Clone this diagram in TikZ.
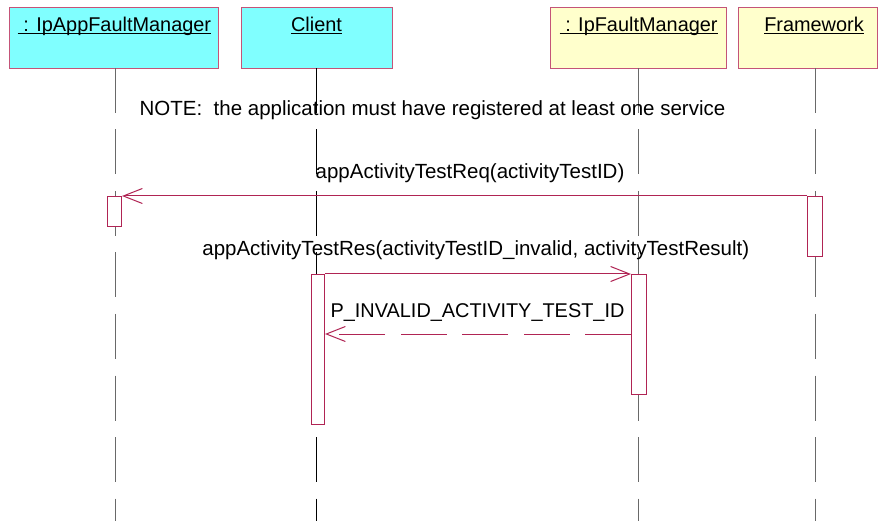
\documentclass[tikz,border=0pt]{standalone}
\usepackage{fontspec}
\setmainfont{Liberation Sans}
\usetikzlibrary{arrows.meta,calc}
\definecolor{msg}{RGB}{176,36,84}
\definecolor{hdrb}{RGB}{196,84,120}
\definecolor{hdrc}{RGB}{128,255,255}
\definecolor{hdry}{RGB}{255,255,204}
\definecolor{lifeg}{RGB}{105,105,105}
\begin{document}
\begin{tikzpicture}[x=1pt,y=-1pt,
  hdr/.style={draw=hdrb, line width=1pt, inner sep=0pt, anchor=north west, minimum height=61pt},
  lbl/.style={inner sep=0pt, anchor=base, font=\fontsize{20.5}{24}\selectfont},
  lbls/.style={lbl, font=\fontsize{19.9}{24}\selectfont},
  life/.style={line width=1pt, dash pattern=on 45pt off 16.5pt},
  act/.style={draw=msg, fill=white, line width=1pt, inner sep=0pt, anchor=north west},
  tip/.style={-{Straight Barb[length=19pt,width=15pt,line width=1pt]}},
  msgline/.style={msg, line width=1pt},
  uline/.style={line width=1.3pt}]
\useasboundingbox (0,0) rectangle (878,521);
\fill[white] (0,0) rectangle (878,521);
% headers
\node[hdr, fill=hdrc, minimum width=209pt] (b1) at (9,7) {};
\node[hdr, fill=hdrc, minimum width=151pt] (b2) at (241,7) {};
\node[hdr, fill=hdry, minimum width=176pt] (b3) at (550,7) {};
\node[hdr, fill=hdry, minimum width=139pt] (b4) at (738,7) {};
\node[lbls] (t1) at (114.5,31.5) {~: IpAppFaultManager};
\node[lbls] (t2) at (316.5,31.5) {Client};
\node[lbls] (t3) at (638.7,31.5) {~: IpFaultManager};
\node[lbls] (t4) at (814,31.5) {Framework};
\foreach \t in {t1,t2,t3,t4}
  \draw[uline] ([yshift=-2pt]\t.base west) -- ([yshift=-2pt]\t.base east);
% lifelines
\coordinate (l1a) at (115,68); \coordinate (l1b) at (115,521);
\coordinate (l2a) at (316,68); \coordinate (l2b) at (316,521);
\coordinate (l3a) at (638,68); \coordinate (l3b) at (638,521);
\coordinate (l4a) at (815,68); \coordinate (l4b) at (815,521);
\draw[life, lifeg] (l1a) -- (l1b);
\draw[life, black] (l2a) -- (l2b);
\draw[life, lifeg] (l3a) -- (l3b);
\draw[life, lifeg] (l4a) -- (l4b);
% note
\node[lbl] (note) at (432.5,116) {NOTE:\ \ the application must have registered at least one service};
% activations
\node[act, minimum width=14pt, minimum height=30pt] (a1) at (107,196) {};
\node[act, minimum width=15pt, minimum height=60pt] (a4) at (807,196) {};
\node[act, minimum width=13pt, minimum height=150pt] (a2) at (311,274) {};
\node[act, minimum width=15pt, minimum height=120pt] (a3) at (631,274) {};
% messages
\draw[msgline, tip] (a4.north west) -- (a1.north east);
\node[lbl] (m1) at (470,179) {appActivityTestReq(activityTestID)};
\draw[msgline, tip] (a2.north east) -- (a3.north west);
\node[lbl] (m2) at (475.8,256) {appActivityTestRes(activityTestID\_invalid, activityTestResult)};
\coordinate (r1) at ($(a3.north west)+(0,60)$);
\coordinate (r2) at ($(a2.north east)+(0,60)$);
\draw[msgline, tip, dash pattern=on 46pt off 15.5pt] (r1) -- (r2);
\node[lbls] (m3) at (477.5,318) {P\_INVALID\_ACTIVITY\_TEST\_ID};
\end{tikzpicture}
\end{document}
